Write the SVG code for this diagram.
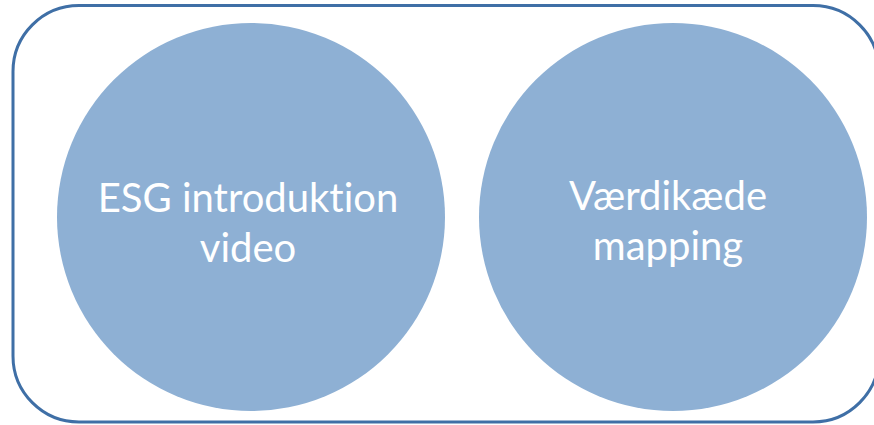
<svg xmlns="http://www.w3.org/2000/svg" width="874" height="425" viewBox="0 0 874 425">
<style>
.node circle{fill:#8eb0d4;}
.lbl{font-family:Lato,"Open Sans","Liberation Sans",sans-serif;font-size:40px;fill:#ffffff;text-anchor:middle;font-variant-ligatures:none;font-feature-settings:"liga" 0;}
</style>
<rect x="13" y="5.5" width="866" height="416.5" rx="66" ry="66" fill="#ffffff" stroke="#3f6fa6" stroke-width="3"/>
<g id="connectors"></g>
<g id="node-esg" class="node">
<circle cx="251" cy="217" r="194"/>
<text class="lbl" x="248" y="212">ESG introduktion</text>
<text class="lbl" x="248" y="262">video</text>
</g>
<g id="node-vaerdi" class="node">
<circle cx="673" cy="217" r="194"/>
<text class="lbl" x="668" y="210">Værdikæde</text>
<text class="lbl" x="668" y="260">mapping</text>
</g>
</svg>
